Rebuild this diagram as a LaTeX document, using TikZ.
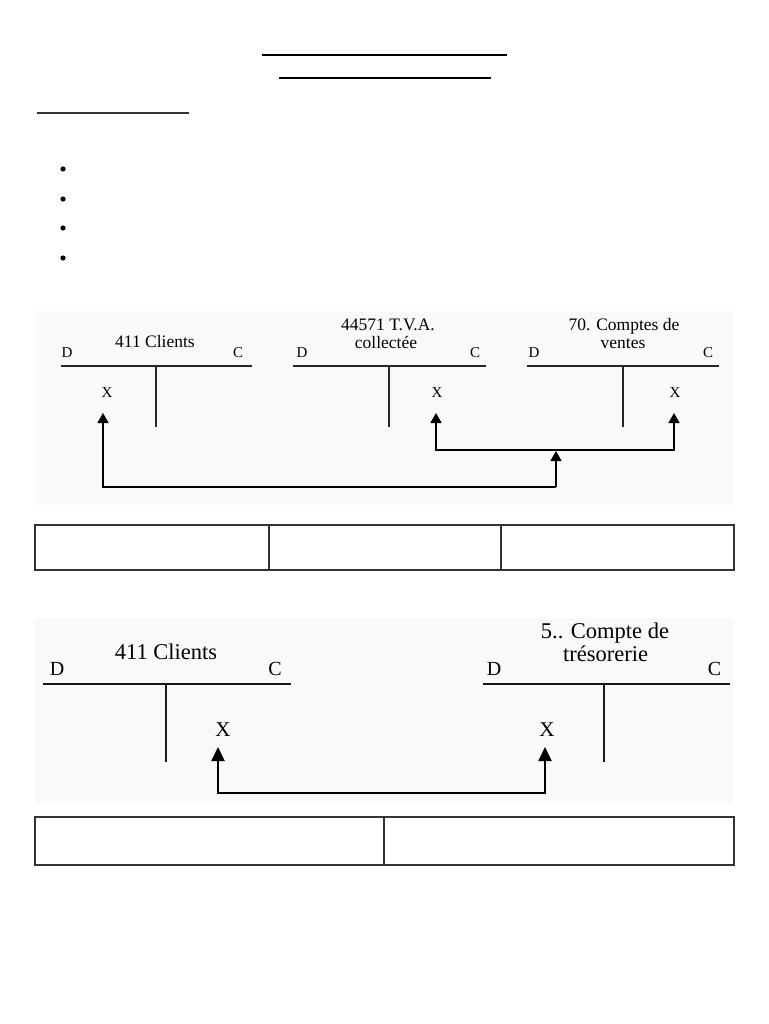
\documentclass[tikz,border=0pt]{standalone}
\usepackage{fontspec}
\setmainfont{Liberation Serif}
\usetikzlibrary{arrows.meta}
\begin{document}
\begin{tikzpicture}[x=1pt,y=-1pt,
  lbl/.style={inner sep=0pt, anchor=base},
  accA/.style={lbl, font=\fontsize{17.5}{18}\selectfont},
  dcA/.style={lbl, font=\fontsize{15}{15}\selectfont},
  accB/.style={lbl, font=\fontsize{22.5}{23}\selectfont},
  dcB/.style={lbl, font=\fontsize{20}{20}\selectfont},
  xB/.style={lbl, font=\fontsize{21}{21}\selectfont},
  tlineA/.style={line width=2pt, draw=black!85},
  tlineB/.style={line width=1.4pt, draw=black!90},
  connA/.style={line width=1.5pt, draw=black, -{Triangle[width=11pt,length=10pt]}},
  connB/.style={line width=1.9pt, draw=black, {Triangle[width=13pt,length=14pt]}-{Triangle[width=13pt,length=14pt]}},
  bgbox/.style={fill=black!2.5, draw=none},
  rule/.style={line width=2.8pt, draw=black},
  bulletdot/.style={circle, fill=black, inner sep=0pt, minimum size=5.2pt},
  tablebox/.style={line width=1.4pt, draw=black!80}
]
\useasboundingbox[fill=white] (0,0) rectangle (768,1024);

% title rules
\draw[rule] (262,55) coordinate (r1a) -- (507,55) coordinate (r1b);
\draw[rule] (279,78) coordinate (r2a) -- (491,78) coordinate (r2b);
\draw[rule, draw=black!80] (37,113) coordinate (r3a) -- (189,113) coordinate (r3b);

% bullets
\node[bulletdot] (b1) at (63,169) {};
\node[bulletdot] (b2) at (63,199) {};
\node[bulletdot] (b3) at (63,228) {};
\node[bulletdot] (b4) at (63,258) {};

% ---------------- diagram 1 ----------------
\fill[bgbox] (36,311) rectangle (733,505);

% account 411
\node[accA] (acc1) at (155,347) {411 Clients};
\node[dcA] (d1) at (67,357) {D};
\node[dcA] (c1) at (238,357) {C};
\draw[tlineA] (61,366) coordinate (h1a) -- (252,366) coordinate (h1b);
\draw[tlineA] (156,366) coordinate (v1a) -- (156,427) coordinate (v1b);
\node[dcA] (x1) at (107,397) {X};

% account 44571
\node[accA] (acc2a) at (388,330) {44571 T.V.A.};
\node[accA] (acc2b) at (386,348) {collectée};
\node[dcA] (d2) at (302,357) {D};
\node[dcA] (c2) at (475,357) {C};
\draw[tlineA] (293,366) coordinate (h2a) -- (486,366) coordinate (h2b);
\draw[tlineA] (389,366) coordinate (v2a) -- (389,427) coordinate (v2b);
\node[dcA] (x2) at (437,397) {X};

% account 70
\node[accA] (acc3a) at (624,330) {70. Comptes de};
\node[accA] (acc3b) at (623,348) {ventes};
\node[dcA] (d3) at (534,357) {D};
\node[dcA] (c3) at (708,357) {C};
\draw[tlineA] (527,366) coordinate (h3a) -- (719,366) coordinate (h3b);
\draw[tlineA] (623,366) coordinate (v3a) -- (623,427) coordinate (v3b);
\node[dcA] (x3) at (675,397) {X};

% connectors diagram 1
\coordinate (t1) at (103,413);
\coordinate (t2) at (436,413);
\coordinate (t3) at (674,413);
\coordinate (j1) at (556,487);
\coordinate (j2) at (556,451);
\coordinate (j2b) at (556,450);
\draw[connA] (j1) -| (t1);
\draw[connA] (j1) -- (j2);
\draw[connA] (j2b) -| (t2);
\draw[connA] (j2b) -| (t3);

% table 1
\draw[tablebox] (35,525) coordinate (tb1a) rectangle (734,570) coordinate (tb1b);
\draw[tablebox] (269,525) -- (269,570);
\draw[tablebox] (501,525) -- (501,570);

% ---------------- diagram 2 ----------------
\fill[bgbox] (35,618) rectangle (733,803);

\node[accB] (acc4) at (166,659) {411 Clients};
\node[dcB] (d4) at (57,675) {D};
\node[dcB] (c4) at (275,675) {C};
\draw[tlineB] (43,684) coordinate (h4a) -- (291,684) coordinate (h4b);
\draw[tlineB] (166,684) coordinate (v4a) -- (166,762) coordinate (v4b);
\node[xB] (x4) at (223,736) {X};

\node[accB] (acc5a) at (605,638) {5.. Compte de};
\node[accB] (acc5b) at (605.5,661) {trésorerie};
\node[dcB] (d5) at (494,675) {D};
\node[dcB] (c5) at (714.5,675) {C};
\draw[tlineB] (483,684) coordinate (h5a) -- (730,684) coordinate (h5b);
\draw[tlineB] (604,684) coordinate (v5a) -- (604,762) coordinate (v5b);
\node[xB] (x5) at (547,736) {X};

\coordinate (t4) at (218,747);
\coordinate (t5) at (545,747);
\coordinate (j3) at (381,793);
\draw[connB] (t4) |- (j3) -| (t5);

% table 2
\draw[tablebox] (35,817) coordinate (tb2a) rectangle (734,865) coordinate (tb2b);
\draw[tablebox] (384,817) -- (384,865);
\end{tikzpicture}
\end{document}
